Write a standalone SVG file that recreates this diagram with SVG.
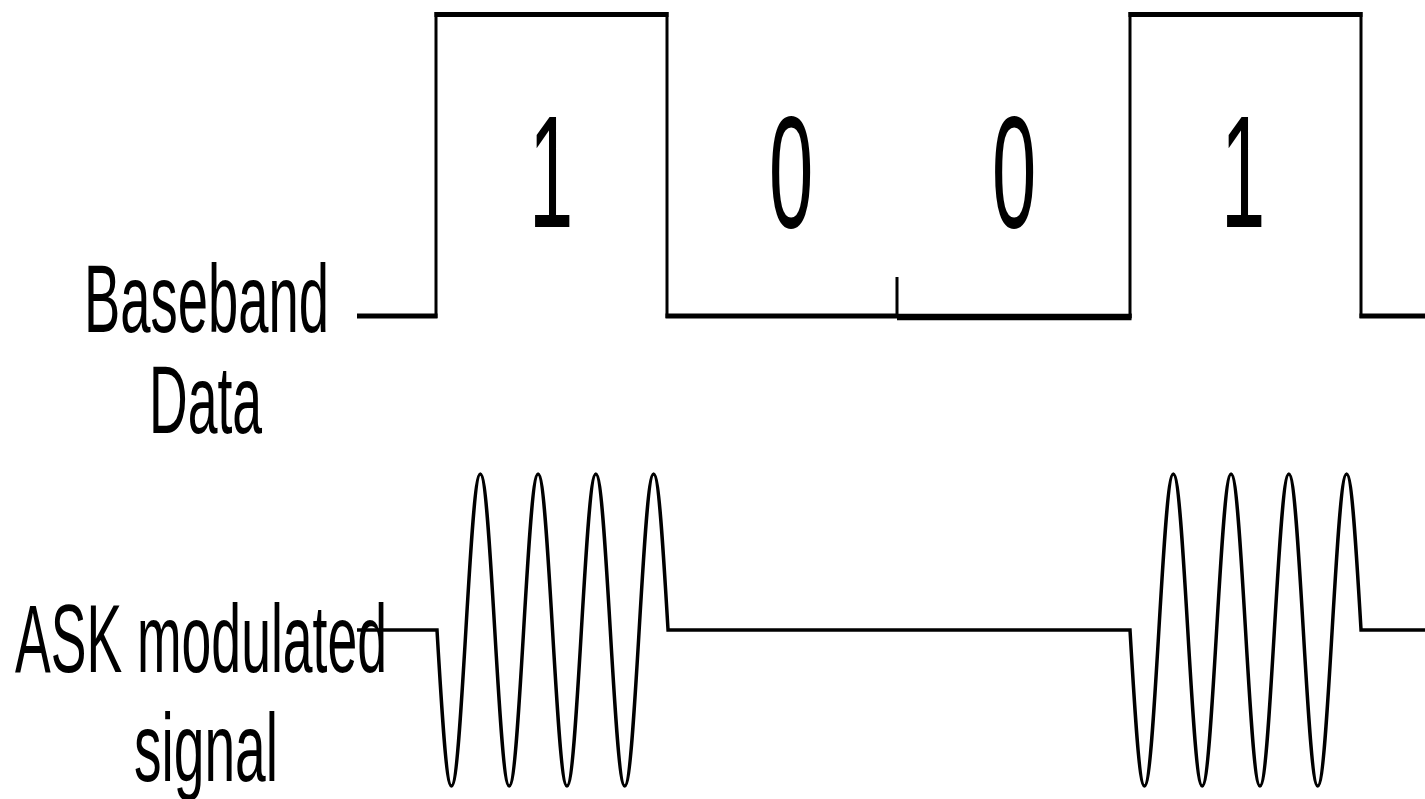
<svg xmlns="http://www.w3.org/2000/svg" width="1425" height="799" viewBox="0 0 1425 799">
  <style>
    .lbl { font-family: "Liberation Sans", Arial, sans-serif; font-size: 96px; fill: #000; }
    .dig { font-family: "Liberation Sans", Arial, sans-serif; font-size: 159px; fill: #000; text-anchor: middle; }
    .wave { fill: none; stroke: #000; stroke-linejoin: miter; stroke-linecap: butt; }
  </style>
  <rect width="1425" height="799" fill="#fff"/>

  <g id="label-baseband">
    <text class="lbl" x="84" y="332" textLength="245" lengthAdjust="spacingAndGlyphs">Baseband</text>
    <text class="lbl" x="149" y="433" textLength="113" lengthAdjust="spacingAndGlyphs">Data</text>
  </g>
  <g id="label-ask">
    <text class="lbl" x="15" y="672" textLength="372" lengthAdjust="spacingAndGlyphs">ASK modulated</text>
    <text class="lbl" x="134" y="781" textLength="144" lengthAdjust="spacingAndGlyphs">signal</text>
  </g>

  <g id="bits">
    <text class="dig" transform="translate(551,227) scale(0.5,1)">1</text>
    <text class="dig" transform="translate(791,227) scale(0.5,1)">0</text>
    <text class="dig" transform="translate(1014,227) scale(0.5,1)">0</text>
    <text class="dig" transform="translate(1243,227) scale(0.5,1)">1</text>
  </g>

  <g id="connectors">
    <path id="baseband-verticals" class="wave" stroke-width="3" d="M436,318 V12 M667,12 V318 M1130,318 V12 M1361,12 V318 M897,277 V316"/>
    <path id="baseband-highs" class="wave" stroke-width="5" d="M434.5,14.5 H668.5 M1128.5,14.5 H1362.5"/>
    <path id="baseband-lows" class="wave" stroke-width="5" d="M357,316 H437.5 M665.5,316 H897 M1131.5,316 H1132"/>
    <path id="baseband-low-2" class="wave" stroke-width="6.5" d="M897,317 H1131.5"/>
    <path id="baseband-low-3" class="wave" stroke-width="5" d="M1359.5,316 H1425"/>
    <path id="ask-wave" class="wave" stroke-width="3.5" d="M357,630 H437
      c 4.83,81.9 9.23,156 14.44,156 c 5.21,0 9.61,-74.1 14.44,-156 c 4.83,-81.9 9.23,-156 14.44,-156 c 5.21,0 9.61,74.1 14.44,156
      c 4.83,81.9 9.23,156 14.44,156 c 5.21,0 9.61,-74.1 14.44,-156 c 4.83,-81.9 9.23,-156 14.44,-156 c 5.21,0 9.61,74.1 14.44,156
      c 4.83,81.9 9.23,156 14.44,156 c 5.21,0 9.61,-74.1 14.44,-156 c 4.83,-81.9 9.23,-156 14.44,-156 c 5.21,0 9.61,74.1 14.44,156
      c 4.83,81.9 9.23,156 14.44,156 c 5.21,0 9.61,-74.1 14.44,-156 c 4.83,-81.9 9.23,-156 14.44,-156 c 5.21,0 9.61,74.1 14.44,156
      H1130
      c 4.83,81.9 9.23,156 14.44,156 c 5.21,0 9.61,-74.1 14.44,-156 c 4.83,-81.9 9.23,-156 14.44,-156 c 5.21,0 9.61,74.1 14.44,156
      c 4.83,81.9 9.23,156 14.44,156 c 5.21,0 9.61,-74.1 14.44,-156 c 4.83,-81.9 9.23,-156 14.44,-156 c 5.21,0 9.61,74.1 14.44,156
      c 4.83,81.9 9.23,156 14.44,156 c 5.21,0 9.61,-74.1 14.44,-156 c 4.83,-81.9 9.23,-156 14.44,-156 c 5.21,0 9.61,74.1 14.44,156
      c 4.83,81.9 9.23,156 14.44,156 c 5.21,0 9.61,-74.1 14.44,-156 c 4.83,-81.9 9.23,-156 14.44,-156 c 5.21,0 9.61,74.1 14.44,156
      H1425"/>
  </g>
</svg>
